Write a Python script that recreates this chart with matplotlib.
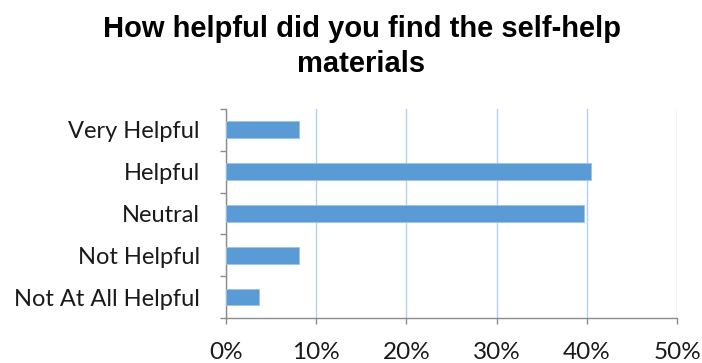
import numpy as np
import matplotlib
matplotlib.use("Agg")
import matplotlib.pyplot as plt
from matplotlib.ticker import FixedLocator, PercentFormatter

categories = ["Very Helpful", "Helpful", "Neutral", "Not Helpful", "Not At All Helpful"]
percent = [8.1, 40.5, 39.7, 8.1, 3.7]
xticks = [0, 10, 20, 30, 40, 50]

fig = plt.figure(figsize=(7.02, 3.63), dpi=100)
ax = fig.add_axes([0.322, 0.124, 0.6425, 0.576])

y = np.arange(len(categories))
ax.barh(y, percent, height=0.4, color="#5b9bd5", edgecolor="#9cc3e8", linewidth=0.6, zorder=3)

ax.set_xlim(0, 50)
ax.set_ylim(len(categories) - 0.5, -0.5)
ax.set_xticks(xticks)
ax.xaxis.set_major_formatter(PercentFormatter(decimals=0))
ax.set_yticks(y)
ax.set_yticklabels(categories)
ax.yaxis.set_minor_locator(FixedLocator(np.arange(-0.5, len(categories), 1.0)))

ax.grid(axis="x", color="#b4d0f5", linewidth=1.0, zorder=0)
for side in ["top", "right"]:
    ax.spines[side].set_visible(False)
for side in ["left", "bottom"]:
    ax.spines[side].set_color("#8c8c8c")
    ax.spines[side].set_linewidth(1.0)

ax.tick_params(axis="y", which="major", length=0, pad=19, labelsize=17)
ax.tick_params(axis="y", which="minor", length=4.5, color="#8c8c8c", width=1.0)
ax.tick_params(axis="x", length=4.5, color="#8c8c8c", width=1.0, pad=13, labelsize=17.5)
for lbl in ax.get_xticklabels() + ax.get_yticklabels():
    lbl.set_family("Lato")
    lbl.set_color("#1a1a1a")

fig.suptitle("How helpful did you find the self-help\nmaterials", x=0.515, y=0.96,
             fontsize=21, fontweight="bold", family="Liberation Sans", linespacing=1.35)

plt.savefig("out.png", dpi=100)
